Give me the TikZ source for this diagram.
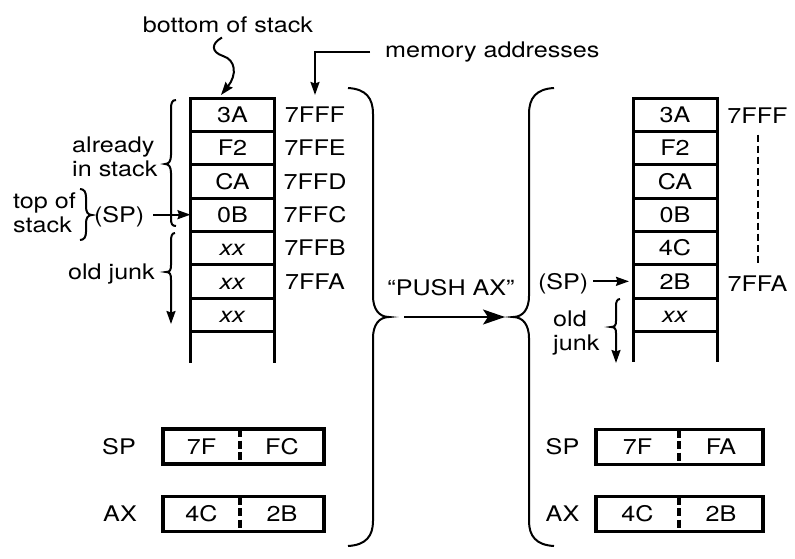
\documentclass[tikz,border=0pt]{standalone}
\usepackage{fontspec}
\setmainfont[FakeStretch=1.17]{TeX Gyre Heros}
\usetikzlibrary{arrows.meta}

\begin{document}
\begin{tikzpicture}[x=1pt, y=-1pt, font=\fontsize{21.5}{24}\selectfont,
        caps/.style={inner sep=0pt, outer sep=0pt, text height=15.4pt, text depth=0pt},
        cell/.style={caps, draw, line width=3pt, minimum width=84pt, minimum height=33.33pt},
        half/.style={caps, minimum height=35pt},
        reg/.style={line width=3.3pt},
        brace/.style={line width=2pt},
        sarrow/.style={line width=2pt, -{Stealth[length=13pt, width=9pt, inset=1.5pt]}},
        barrow/.style={line width=2pt, -{Stealth[length=22pt, width=15pt, inset=5pt]}}]
                \useasboundingbox (0,0) rectangle (795,558);
                \node [cell] (L1) at (232.5,114.67) {3A};
                \node [cell] (L2) at (232.5,148) {F2};
                \node [cell] (L3) at (232.5,181.33) {CA};
                \node [cell] (L4) at (232.5,214.67) {0B};
                \node [cell] (L5) at (232.5,248) {\textit{xx}};
                \node [cell] (L6) at (232.5,281.33) {\textit{xx}};
                \node [cell] (L7) at (232.5,314.67) {\textit{xx}};
                \draw [line width=3pt] (L7.south west) -- ++(0,32);
                \draw [line width=3pt] (L7.south east) -- ++(0,32);
                \node [caps] (a1) at (315,114.67) {7FFF};
                \node [caps] (a2) at (315,148) {7FFE};
                \node [caps] (a3) at (315,181.33) {7FFD};
                \node [caps] (a4) at (315,214.67) {7FFC};
                \node [caps] (a5) at (315,248) {7FFB};
                \node [caps] (a6) at (315,281.33) {7FFA};
                \node [inner sep=0pt, anchor=base] (bos) at (228,32) {bottom of stack};
                \coordinate (boswave) at (223,56);
                \draw [sarrow] ([xshift=-6pt,yshift=-5pt]bos.south) .. controls +(-11,6) and +(-12,-4) .. (boswave) .. controls +(13,4) and +(16,-20) .. ([xshift=-11.5pt,yshift=3pt]L1.north);
                \node [inner sep=0pt, anchor=base west] (mem) at (385,57) {memory addresses};
                \draw [sarrow] ([xshift=-15pt]mem.west) -| ([yshift=12pt]a1.north);
                \node [inner sep=0pt, anchor=west, align=left] (ais) at (72,157.3) {already\\in stack};
                \draw [brace] (176,100) .. controls (172,100) and (171,103) .. (171,109) -- (171,155) .. controls (171,161) and (169,164) .. (165,164) .. controls (169,164) and (171,167) .. (171,173) -- (171,218) .. controls (171,224) and (172,226) .. (176,226);
                \node [inner sep=0pt, anchor=west, align=left] (tos) at (13,213.2) {top of\\stack};
                \draw [brace] (80,189) .. controls (84,189) and (86,192) .. (86,197) -- (86,207) .. controls (86,212) and (88,215) .. (92,215) .. controls (88,215) and (86,218) .. (86,223) -- (86,232) .. controls (86,237) and (84,240) .. (80,240);
                \node [caps, anchor=west] (spl) at (94,214.67) {(SP)};
                \draw [sarrow, shorten <=9pt] (spl) -- (L4);
                \node [inner sep=0pt, anchor=base east] (ojl) at (155,279.5) {old junk};
                \draw [sarrow] (175,233) .. controls (172,233) and (171,236) .. (171,241) -- (171,265) .. controls (171,270) and (170,272) .. (166,272) .. controls (170,272) and (171,274) .. (171,280) -- (171,324);
                \node [caps] (rspl) at (119,447) {SP};
                \node [half, minimum width=77pt] (sl1) at (201.5,446.5) {7F};
                \node [half, minimum width=84pt] (sl2) at (282,446.5) {FC};
                \draw [reg] (sl1.north west) rectangle (sl2.south east);
                \draw [reg, dash pattern=on 8pt off 3.5pt] (sl1.north east) -- (sl1.south east);
                \node [caps] (raxl) at (120,513.5) {AX};
                \node [half, minimum width=77pt] (xl1) at (201.5,514) {4C};
                \node [half, minimum width=84pt] (xl2) at (282,514) {2B};
                \draw [reg] (xl1.north west) rectangle (xl2.south east);
                \draw [reg, dash pattern=on 8pt off 3.5pt] (xl1.north east) -- (xl1.south east);
                \draw [brace] (348,88) .. controls (366,89) and (373,98) .. (373,114) -- (373,296) .. controls (373,309) and (379,317) .. (389,317) .. controls (379,317) and (373,325) .. (373,338) -- (373,521) .. controls (373,536) and (366,545) .. (348,546);
                \draw [brace] (554,88) .. controls (536,89) and (529,98) .. (529,114) -- (529,296) .. controls (529,309) and (523,317) .. (513,317) .. controls (523,317) and (529,325) .. (529,338) -- (529,521) .. controls (529,536) and (536,545) .. (554,546);
                \coordinate (ltip) at (389,317);
                \coordinate (rtip) at (513,317);
                \node [caps] (push) at (451,288) {“PUSH AX”};
                \draw [barrow, shorten <=15pt, shorten >=8pt] (ltip) -- (rtip);
                \node [cell] (R1) at (675,114.67) {3A};
                \node [cell] (R2) at (675,148) {F2};
                \node [cell] (R3) at (675,181.33) {CA};
                \node [cell] (R4) at (675,214.67) {0B};
                \node [cell] (R5) at (675,248) {4C};
                \node [cell] (R6) at (675,281.33) {2B};
                \node [cell] (R7) at (675,314.67) {\textit{xx}};
                \draw [line width=3pt] (R7.south west) -- ++(0,31);
                \draw [line width=3pt] (R7.south east) -- ++(0,31);
                \node [caps] (b1) at (757.5,116) {7FFF};
                \node [caps] (b6) at (757.5,284) {7FFA};
                \draw [line width=2pt, dash pattern=on 7pt off 4pt] ([yshift=-11pt]b1.south) -- ([yshift=13pt]b6.north);
                \node [caps, anchor=west] (spr) at (538,281.33) {(SP)};
                \draw [sarrow, shorten <=5pt, shorten >=4pt] (spr) -- (R6);
                \node [inner sep=0pt, anchor=west, align=left] (ojr) at (553,332.5) {old\\junk};
                \draw [sarrow] (620,299) .. controls (617,299) and (616,302) .. (616,306) -- (616,321) .. controls (616,325) and (615,327) .. (611,327) .. controls (615,327) and (616,329) .. (616,333) -- (616,363);
                \node [caps] (rspr) at (562.5,447) {SP};
                \node [half, minimum width=83pt] (sr1) at (637.5,447) {7F};
                \node [half, minimum width=84pt] (sr2) at (721,447) {FA};
                \draw [reg] (sr1.north west) rectangle (sr2.south east);
                \draw [reg, dash pattern=on 8pt off 3.5pt] (sr1.north east) -- (sr1.south east);
                \node [caps] (raxr) at (562.5,514) {AX};
                \node [half, minimum width=83pt] (xr1) at (637.5,514) {4C};
                \node [half, minimum width=84pt] (xr2) at (721,514) {2B};
                \draw [reg] (xr1.north west) rectangle (xr2.south east);
                \draw [reg, dash pattern=on 8pt off 3.5pt] (xr1.north east) -- (xr1.south east);
            \end{tikzpicture}
\end{document}
